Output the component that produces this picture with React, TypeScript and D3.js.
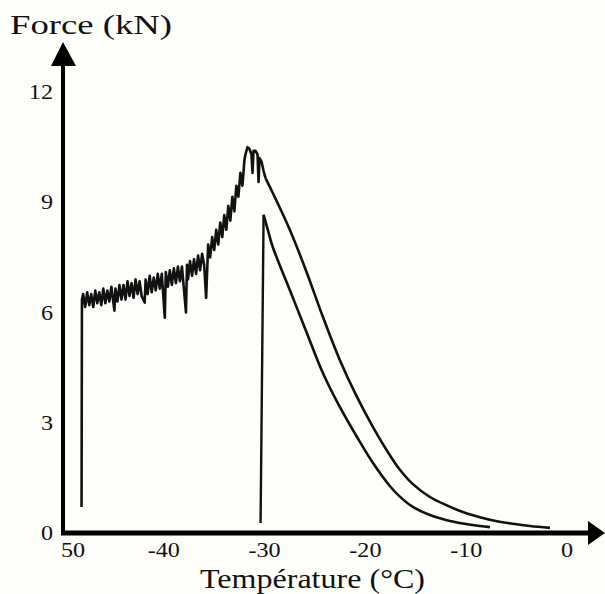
import React from "react";
import * as d3 from "d3";

// ---- data ----
const yTicks = [0, 3, 6, 9, 12];
const xTicks = [-50, -40, -30, -20, -10, 0];
const xTickLabels = ["50", "-40", "-30", "-20", "-10", "0"];

// Heating curve (noisy part followed by the smooth decay)
const heatRise: [number, number][] = [
  [-48.16, 0.71],
  [-48.12, 6.35],
];
const heatNoisy: [number, number][] = [
  [-48.0, 6.5], [-47.8, 6.15], [-47.6, 6.55], [-47.4, 6.2], [-47.2, 6.5],
  [-47.0, 6.15], [-46.8, 6.6], [-46.6, 6.25], [-46.4, 6.55], [-46.2, 6.2],
  [-46.0, 6.65], [-45.8, 6.25], [-45.6, 6.6], [-45.4, 6.3], [-45.2, 6.7],
  [-44.9, 6.05], [-44.8, 6.65], [-44.6, 6.3], [-44.4, 6.75], [-44.2, 6.35],
  [-44.0, 6.75], [-43.8, 6.35], [-43.6, 6.85], [-43.4, 6.45], [-43.2, 6.8],
  [-43.0, 6.4], [-42.8, 6.9], [-42.6, 6.5], [-42.4, 6.85], [-42.2, 6.45],
  [-41.9, 6.27], [-41.8, 6.9], [-41.6, 6.5], [-41.4, 7.0], [-41.2, 6.55],
  [-41.0, 6.95], [-40.8, 6.6], [-40.6, 7.05], [-40.4, 6.65], [-40.2, 7.05],
  [-39.9, 5.86], [-39.8, 7.1], [-39.6, 6.7], [-39.4, 7.15], [-39.2, 6.75],
  [-39.0, 7.2], [-38.8, 6.8], [-38.6, 7.25], [-38.4, 6.85], [-38.2, 7.25],
  [-37.8, 6.0], [-37.7, 7.3], [-37.6, 6.9], [-37.4, 7.4], [-37.2, 7.0],
  [-37.0, 7.45], [-36.8, 7.05], [-36.6, 7.55], [-36.4, 7.15], [-36.2, 7.6],
  [-36.0, 7.3], [-35.8, 6.4], [-35.6, 7.85], [-35.4, 7.5], [-35.2, 8.05],
  [-35.0, 7.7], [-34.8, 8.25], [-34.6, 7.85], [-34.4, 8.45], [-34.2, 8.05],
  [-34.0, 8.65], [-33.8, 8.25], [-33.6, 8.9], [-33.4, 8.5], [-33.2, 9.15],
  [-33.0, 8.75], [-32.8, 9.45], [-32.6, 9.15], [-32.4, 9.8], [-32.2, 9.45],
  [-32.0, 10.15], [-31.9, 10.3], [-31.7, 10.5], [-31.5, 10.45], [-31.3, 10.3],
  [-31.2, 9.8], [-31.1, 10.4], [-30.9, 10.4], [-30.7, 10.3], [-30.6, 9.55],
  [-30.5, 10.2], [-30.3, 10.1], [-30.1, 9.85], [-29.9, 9.65],
];
const heatDecay: [number, number][] = [
  [-29.9, 9.65], [-29.2, 9.26], [-27.51, 8.26], [-25.82, 7.09], [-24.23, 5.89],
  [-22.54, 4.71], [-20.85, 3.71], [-19.26, 2.89], [-17.58, 2.12],
  [-16.58, 1.72], [-15.29, 1.33], [-13.6, 0.98], [-11.92, 0.75],
  [-10.33, 0.57], [-8.64, 0.43], [-6.95, 0.32], [-5.36, 0.25],
  [-3.67, 0.19], [-1.69, 0.14],
];

// Second curve (starts at about -30 °C)
const coolRise: [number, number][] = [
  [-30.4, 0.27], [-30.1, 8.66],
];
const coolDecay: [number, number][] = [
  [-30.1, 8.66], [-29.69, 8.26], [-29.2, 7.79],
  [-27.51, 6.62], [-25.82, 5.45], [-24.23, 4.36], [-22.54, 3.43],
  [-20.85, 2.62], [-19.26, 1.91], [-17.58, 1.28], [-16.58, 0.99],
  [-15.29, 0.71], [-13.6, 0.49], [-11.92, 0.35], [-10.33, 0.26],
  [-8.64, 0.19], [-7.65, 0.16],
];

const W = 605;
const H = 594;

export default function App() {
  const x = d3.scaleLinear().domain([-50, 0]).range([63, 567]);
  const y = d3.scaleLinear().domain([0, 12]).range([533, 92]);

  const line = d3
    .line<[number, number]>()
    .x((d) => x(d[0]))
    .y((d) => y(d[1]));
  const smooth = d3
    .line<[number, number]>()
    .x((d) => x(d[0]))
    .y((d) => y(d[1]))
    .curve(d3.curveCatmullRom.alpha(0.5));

  const heatPath = line([...heatRise, ...heatNoisy]) || "";
  const decayPath = smooth(heatDecay) || "";
  const coolRisePath = line(coolRise) || "";
  const coolDecayPath = smooth(coolDecay) || "";

  const x0 = x(-50);
  const y0 = y(0);
  const font = "'Liberation Serif', 'Times New Roman', serif";

  return (
    <svg
      width={W}
      height={H}
      viewBox={`0 0 ${W} ${H}`}
      style={{ position: "absolute", left: 0, top: 0, background: "#fdfdfa" }}
    >
      <rect x={0} y={0} width={W} height={H} fill="#fdfdfa" />

      {/* curves */}
      <path d={heatPath} fill="none" stroke="#111" strokeWidth={2.6} strokeLinejoin="round" />
      <path d={decayPath} fill="none" stroke="#111" strokeWidth={2.6} />
      <path d={coolRisePath} fill="none" stroke="#111" strokeWidth={2.4} />
      <path d={coolDecayPath} fill="none" stroke="#111" strokeWidth={2.6} />

      {/* axes */}
      <line x1={x0} y1={y0 + 2} x2={x0} y2={64} stroke="#000" strokeWidth={4} />
      <polygon points={`${x0},42 ${x0 - 12},66 ${x0 + 13},66`} fill="#000" />
      <line x1={x0 - 2} y1={y0} x2={590} y2={y0} stroke="#000" strokeWidth={5} />
      <polygon points={`605,${y0} 588,${y0 - 12} 588,${y0 + 12}`} fill="#000" />

      {/* y tick labels */}
      {yTicks.map((t) => (
        <text
          key={"y" + t}
          transform={`translate(53,${y(t) + 7}) scale(1.15,1)`}
          textAnchor="end"
          fontFamily={font}
          fontSize={21}
          fill="#111"
        >
          {t}
        </text>
      ))}

      {/* x tick labels */}
      {xTicks.map((t, i) => (
        <text
          key={"x" + t}
          transform={`translate(${x(t) + (i === 0 ? 10 : 0)},557) scale(1.15,1)`}
          textAnchor="middle"
          fontFamily={font}
          fontSize={21}
          fill="#111"
        >
          {xTickLabels[i]}
        </text>
      ))}

      {/* titles */}
      <text
        x={10}
        y={34}
        fontFamily={font}
        fontSize={27}
        textLength={162}
        lengthAdjust="spacingAndGlyphs"
        fill="#111"
      >
        Force (kN)
      </text>
      <text
        x={200}
        y={588}
        fontFamily={font}
        fontSize={27}
        textLength={225}
        lengthAdjust="spacingAndGlyphs"
        fill="#111"
      >
        Température (°C)
      </text>
    </svg>
  );
}
